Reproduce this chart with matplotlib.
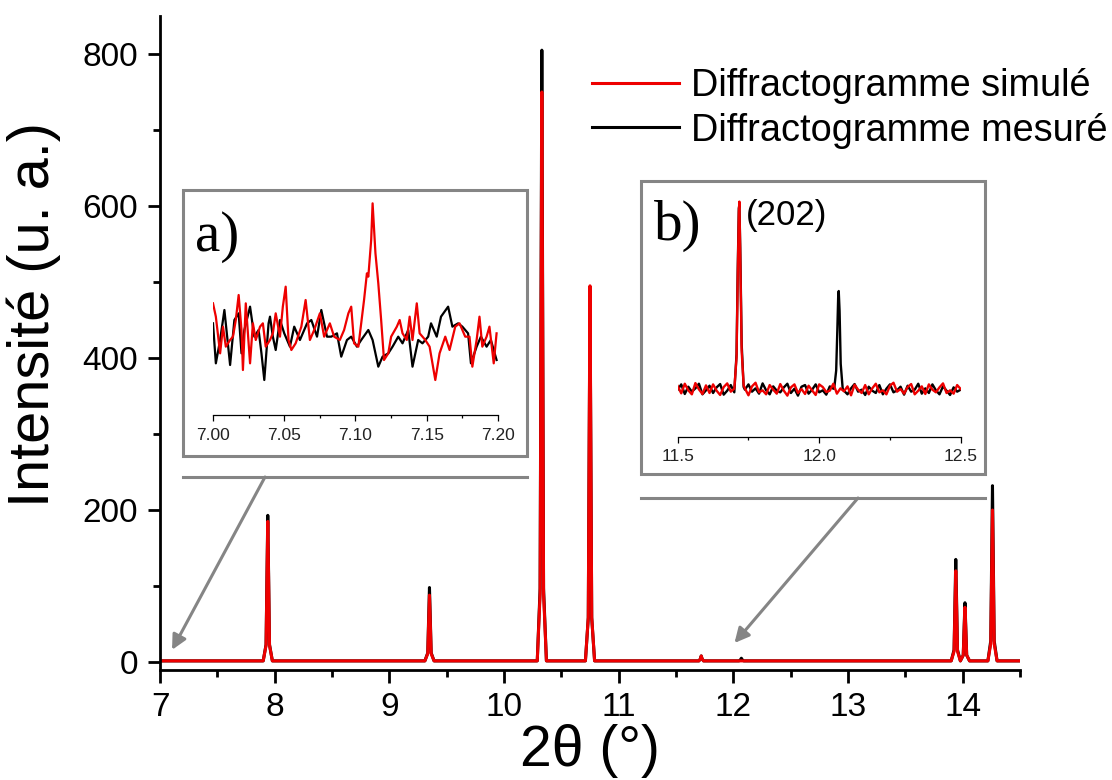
import numpy as np
import matplotlib
matplotlib.use("Agg")
import matplotlib.pyplot as plt
from matplotlib.patches import Rectangle
from matplotlib.lines import Line2D
from matplotlib.ticker import MultipleLocator, FormatStrFormatter

plt.rcParams['font.family'] = ['Liberation Sans', 'DejaVu Sans']

# main pattern, measured (black)
meas_x = [7.00, 7.90, 7.925, 7.933, 7.94, 7.947, 7.955, 7.98,
          9.31, 9.335, 9.343, 9.35, 9.357, 9.365, 9.39,
          10.29, 10.315, 10.323, 10.33, 10.337, 10.345, 10.37,
          10.71, 10.735, 10.743, 10.75, 10.757, 10.765, 10.79,
          11.70, 11.712, 11.72, 11.728, 11.74,
          12.05, 12.062, 12.07, 12.078, 12.09,
          13.90, 13.925, 13.933, 13.94, 13.947, 13.955, 13.98,
          14.005, 14.013, 14.02, 14.027, 14.035, 14.06,
          14.22, 14.245, 14.253, 14.26, 14.267, 14.275, 14.30, 14.50]
meas_y = [1.5, 1.5, 23, 116, 193, 116, 23, 1.5,
          1.5, 12, 59, 98, 59, 12, 1.5,
          1.5, 97, 483, 805, 483, 97, 1.5,
          1.5, 58, 288, 480, 288, 58, 1.5,
          1.5, 4, 8, 4, 1.5,
          1.5, 3, 5, 3, 1.5,
          1.5, 16, 81, 135, 81, 16, 1.5,
          9, 47, 78, 47, 9, 1.5,
          1.5, 28, 139, 232, 139, 28, 1.5, 1.5]

# main pattern, simulated (red)
sim_x = [7.00, 7.90, 7.925, 7.933, 7.94, 7.947, 7.955, 7.98,
         9.31, 9.335, 9.343, 9.35, 9.357, 9.365, 9.39,
         10.29, 10.315, 10.323, 10.33, 10.337, 10.345, 10.37,
         10.71, 10.735, 10.743, 10.75, 10.757, 10.765, 10.79,
         11.70, 11.712, 11.72, 11.728, 11.74,
         13.90, 13.925, 13.933, 13.94, 13.947, 13.955, 13.98,
         14.005, 14.013, 14.02, 14.027, 14.035, 14.06,
         14.22, 14.245, 14.253, 14.26, 14.267, 14.275, 14.30, 14.50]
sim_y = [1.5, 1.5, 22, 111, 185, 111, 22, 1.5,
         1.5, 11, 53, 88, 53, 11, 1.5,
         1.5, 90, 450, 750, 450, 90, 1.5,
         1.5, 59, 297, 495, 297, 59, 1.5,
         1.5, 4, 8, 4, 1.5,
         1.5, 14, 72, 120, 72, 14, 1.5,
         9, 43, 72, 43, 9, 1.5,
         1.5, 24, 120, 200, 120, 24, 1.5, 1.5]

# inset a) 7.00 - 7.20
a_meas_x = [7.000, 7.002, 7.005, 7.008, 7.012, 7.015, 7.018, 7.020, 7.022, 7.026,
            7.029, 7.032, 7.034, 7.036, 7.039, 7.040, 7.042, 7.044, 7.047, 7.050,
            7.054, 7.057, 7.061, 7.066, 7.069, 7.073, 7.076, 7.080, 7.083, 7.087,
            7.090, 7.094, 7.097, 7.101, 7.104, 7.109, 7.112, 7.116, 7.119, 7.123,
            7.126, 7.130, 7.133, 7.137, 7.140, 7.144, 7.147, 7.151, 7.153, 7.157,
            7.160, 7.165, 7.168, 7.172, 7.175, 7.179, 7.181, 7.185, 7.188, 7.192,
            7.195, 7.199]
a_meas_y = [27.5, 15.5, 22.5, 31.5, 15.0, 28.5, 30.5, 18.5, 25.5, 32.5,
            23.5, 25.5, 18.5, 10.5, 27.5, 29.5, 23.5, 19.5, 28.5, 24.5,
            20.5, 26.5, 22.5, 27.5, 28.5, 23.5, 31.5, 23.5, 23.5, 24.5,
            17.5, 22.5, 23.5, 20.5, 22.5, 25.5, 22.5, 14.5, 17.5, 18.5,
            20.5, 23.5, 21.5, 25.5, 14.5, 22.5, 21.5, 23.5, 27.5, 23.5,
            29.5, 32.5, 26.5, 27.5, 26.5, 24.5, 15.5, 20.5, 23.5, 20.5,
            22.5, 16.5]
a_sim_x = [7.000, 7.002, 7.005, 7.007, 7.009, 7.012, 7.014, 7.016, 7.018, 7.020,
           7.021, 7.023, 7.026, 7.028, 7.030, 7.033, 7.035, 7.037, 7.040, 7.042,
           7.044, 7.047, 7.049, 7.051, 7.053, 7.055, 7.058, 7.062, 7.065, 7.068,
           7.071, 7.075, 7.078, 7.082, 7.085, 7.089, 7.092, 7.095, 7.097, 7.099,
           7.102, 7.104, 7.106, 7.108, 7.109, 7.111, 7.112, 7.114, 7.116, 7.118,
           7.120, 7.123, 7.125, 7.129, 7.131, 7.133, 7.136, 7.138, 7.140, 7.143,
           7.145, 7.149, 7.152, 7.156, 7.159, 7.163, 7.166, 7.170, 7.173, 7.177,
           7.180, 7.182, 7.185, 7.187, 7.189, 7.192, 7.194, 7.197, 7.199]
a_sim_y = [33.5, 29.5, 18.5, 26.5, 20.5, 22.5, 23.5, 28.5, 36.0, 25.5,
           13.5, 33.5, 15.5, 27.5, 22.5, 26.5, 27.5, 20.5, 22.5, 24.5,
           30.5, 23.5, 32.5, 38.5, 22.5, 19.5, 21.5, 26.5, 34.5, 22.5,
           25.5, 30.5, 23.5, 27.5, 23.5, 22.5, 25.5, 30.5, 32.5, 21.5,
           20.5, 27.5, 34.5, 42.5, 41.5, 52.5, 63.5, 48.5, 39.5, 28.5,
           16.5, 18.5, 23.5, 26.5, 28.5, 24.5, 22.5, 29.5, 22.5, 33.5,
           24.5, 22.5, 20.5, 10.5, 18.5, 23.5, 19.5, 26.5, 27.5, 23.5,
           23.5, 14.5, 22.5, 29.5, 20.5, 23.5, 26.5, 15.5, 24.5]

# inset b) 11.5 - 12.5, baseline scan every 0.0125 deg
b_grid = np.round(np.arange(11.5, 12.5001, 0.0125), 4)
b_sim_noise = [15.3, 13.1, 16.0, 14.0, 12.8, 16.2, 14.3, 12.9, 15.5, 13.2,
               15.8, 13.9, 12.6, 15.0, 16.1, 13.6, 14.5, 12.9, 15.7, 14.6,
               12.5, 15.2, 16.3, 13.4, 14.0, 12.8, 15.6, 14.2, 13.0, 15.9,
               13.9, 12.4, 14.9, 15.8, 13.2, 14.4, 12.9, 15.4, 14.0, 12.6,
               15.8, 15.0, 13.5, 13.9, 16.0, 13.0, 14.6, 13.7, 15.2, 12.5,
               15.7, 14.2, 13.2, 15.6, 12.8, 14.6, 16.0, 13.4, 14.0, 12.8,
               15.4, 16.3, 13.6, 14.4, 13.0, 15.0, 15.9, 12.8, 13.9, 15.2,
               12.9, 15.8, 14.2, 13.4, 14.9, 16.1, 13.2, 14.0, 13.0, 15.6, 14.4]
b_meas_noise = [14.2, 15.8, 12.9, 15.1, 13.6, 14.6, 16.0, 12.8, 14.0, 15.4,
                13.2, 14.9, 15.9, 12.7, 13.9, 15.6, 13.4, 15.2, 12.5, 14.2,
                15.8, 13.6, 14.6, 13.0, 16.1, 14.0, 12.8, 15.2, 13.9, 13.4,
                14.9, 16.0, 13.2, 14.5, 12.4, 15.1, 15.6, 13.0, 14.2, 15.8,
                13.4, 14.0, 12.7, 15.2, 14.5, 12.3, 15.4, 13.9, 12.8, 14.6,
                15.9, 13.6, 14.2, 12.6, 15.1, 13.9, 13.2, 15.6, 12.8, 14.5,
                15.8, 13.4, 14.0, 15.1, 12.7, 15.4, 13.6, 14.2, 16.0, 13.0,
                14.6, 13.2, 15.8, 14.0, 12.8, 15.2, 13.9, 12.6, 14.9, 13.6, 14.2]
b_peak202_x = [11.701, 11.708, 11.712, 11.716, 11.718, 11.721, 11.726, 11.733]
b_sim_peak202_y = [15.5, 24, 48, 68, 71, 55, 26, 15.5]
b_meas_peak202_y = [15, 25, 50, 69, 70, 57, 28, 15]
b_meas_peak2_x = [12.053, 12.060, 12.064, 12.067, 12.069, 12.072, 12.076, 12.083]
b_meas_peak2_y = [14.5, 20, 32, 42, 44, 38, 22, 14.5]


def merge(grid, noise, peaks):
    x = list(grid)
    y = list(noise)
    for px, py in peaks:
        keep = [i for i in range(len(x)) if not (px[0] <= x[i] <= px[-1])]
        x = [x[i] for i in keep] + list(px)
        y = [y[i] for i in keep] + list(py)
    order = np.argsort(x)
    return np.array(x)[order], np.array(y)[order]


b_sim_x, b_sim_y = merge(b_grid, b_sim_noise, [(b_peak202_x, b_sim_peak202_y)])
b_meas_x, b_meas_y = merge(b_grid, b_meas_noise, [(b_peak202_x, b_meas_peak202_y),
                                                  (b_meas_peak2_x, b_meas_peak2_y)])

W, H = 1112, 780
RED = '#ee0000'
GRAY = '#858585'

fig = plt.figure(figsize=(W / 100, H / 100), dpi=100)
ax = fig.add_axes([160 / W, 1 - 670 / H, 860 / W, 654 / H])

ax.plot(meas_x, meas_y, color='black', lw=2.2, label='Diffractogramme mesuré')
ax.plot(sim_x, sim_y, color=RED, lw=2.2, label='Diffractogramme simulé')

ax.set_xlim(7, 14.5)
ax.set_ylim(-10.5, 850)
ax.spines['top'].set_visible(False)
ax.spines['right'].set_visible(False)
for s in ['left', 'bottom']:
    ax.spines[s].set_linewidth(2)
ax.xaxis.set_major_locator(MultipleLocator(1))
ax.xaxis.set_minor_locator(MultipleLocator(0.5))
ax.yaxis.set_major_locator(MultipleLocator(200))
ax.yaxis.set_minor_locator(MultipleLocator(100))
ax.tick_params(which='major', direction='out', length=9, width=2, labelsize=24, pad=7)
ax.tick_params(which='minor', direction='out', length=5, width=2)

ax.set_xlabel('2θ (°)', fontsize=41)
ax.xaxis.set_label_coords(0.5, -0.083)
ax.xaxis.label.set_va('top')
ax.set_ylabel('Intensité (u. a.)', fontsize=41.5)
ax.yaxis.set_label_coords(-0.115, 0.544)

h, l = ax.get_legend_handles_labels()
ax.legend(h[::-1], l[::-1], loc='upper left', bbox_to_anchor=(592 / W, 1 - 68 / H),
          bbox_transform=fig.transFigure, frameon=False, fontsize=27.3,
          handlelength=2.3, handletextpad=0.32, labelspacing=0.23,
          borderpad=0, borderaxespad=0)

# inset frames and connector lines
fig.add_artist(Rectangle((183 / W, 1 - 456 / H), 344 / W, 266 / H, transform=fig.transFigure,
                         facecolor='white', edgecolor=GRAY, lw=2.2, zorder=2))
fig.add_artist(Rectangle((641 / W, 1 - 474 / H), 344 / W, 293 / H, transform=fig.transFigure,
                         facecolor='white', edgecolor=GRAY, lw=2.2, zorder=2))
fig.add_artist(Line2D([183 / W, 527 / W], [1 - 477 / H] * 2, transform=fig.transFigure,
                      color=GRAY, lw=2.2, zorder=2))
fig.add_artist(Line2D([641 / W, 985 / W], [1 - 498 / H] * 2, transform=fig.transFigure,
                      color=GRAY, lw=2.2, zorder=2))
ax.annotate('', xy=(7.105, 16), xycoords='data',
            xytext=(265 / W, 1 - 477 / H), textcoords='figure fraction',
            arrowprops=dict(arrowstyle='-|>', color=GRAY, lw=2.2, mutation_scale=22,
                            shrinkA=0, shrinkB=0))
ax.annotate('', xy=(12.01, 25), xycoords='data',
            xytext=(858 / W, 1 - 498 / H), textcoords='figure fraction',
            arrowprops=dict(arrowstyle='-|>', color=GRAY, lw=2.2, mutation_scale=22,
                            shrinkA=0, shrinkB=0))

# inset a
axa = fig.add_axes([213 / W, 1 - 415 / H, 285 / W, 220 / H], zorder=3)
axa.plot(a_meas_x, a_meas_y, color='black', lw=1.6)
axa.plot(a_sim_x, a_sim_y, color=RED, lw=1.6)
axa.set_xlim(7.0, 7.2)
axa.set_ylim(0, 66)

# inset b
axb = fig.add_axes([677.7 / W, 1 - 436.7 / H, 283 / W, 241.7 / H], zorder=3)
axb.plot(b_meas_x, b_meas_y, color='black', lw=1.7)
axb.plot(b_sim_x, b_sim_y, color=RED, lw=1.7)
axb.set_xlim(11.5, 12.5)
axb.set_ylim(0, 73)

for a, maj, mn, fmt in [(axa, 0.05, 0.025, '%.2f'), (axb, 0.5, 0.25, '%.1f')]:
    a.patch.set_visible(False)
    for s in ['top', 'right', 'left']:
        a.spines[s].set_visible(False)
    a.spines['bottom'].set_linewidth(0.9)
    a.set_yticks([])
    a.xaxis.set_major_locator(MultipleLocator(maj))
    a.xaxis.set_minor_locator(MultipleLocator(mn))
    a.xaxis.set_major_formatter(FormatStrFormatter(fmt))
    a.tick_params(which='major', direction='out', length=4, width=0.9,
                  labelsize=12.5, labelcolor='#222222', pad=5)
    a.tick_params(which='minor', direction='out', length=2.5, width=0.9)

fig.text(195 / W, 1 - 251 / H, 'a)', family='Liberation Serif', fontsize=41,
         va='baseline', zorder=4)
fig.text(654 / W, 1 - 240 / H, 'b)', family='Liberation Serif', fontsize=41,
         va='baseline', zorder=4)
fig.text(746 / W, 1 - 215 / H, '(202)', fontsize=25, va='center', zorder=4)

fig.savefig('out.png', dpi=100)
